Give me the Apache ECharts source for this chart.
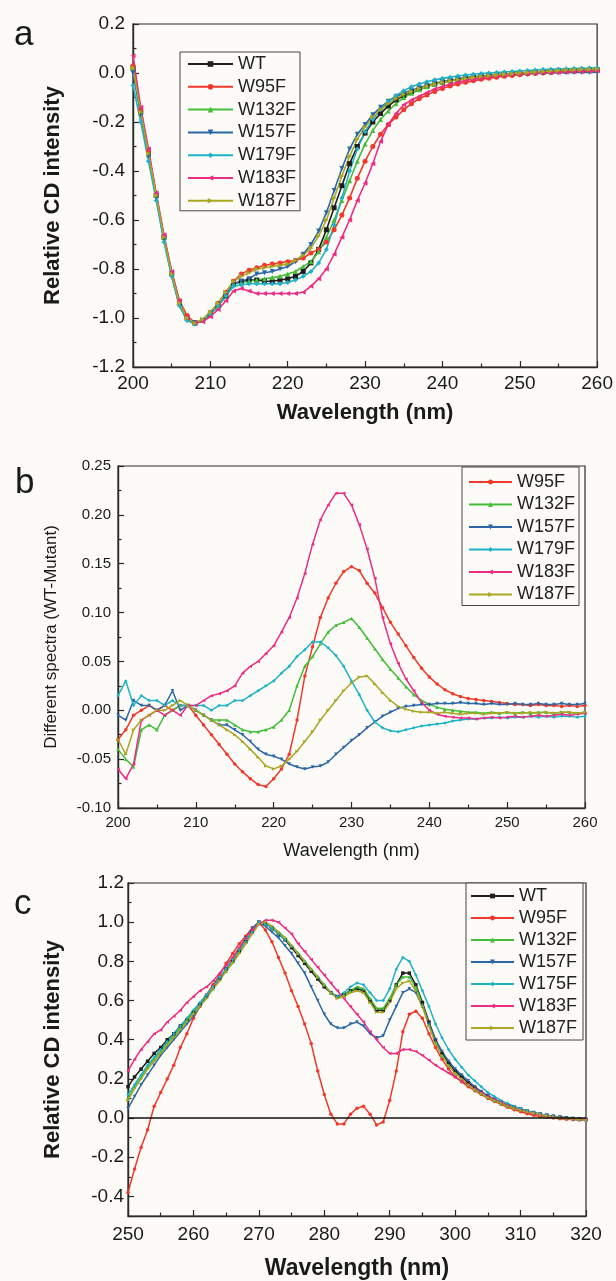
<!DOCTYPE html>
<html>
<head>
<meta charset="utf-8">
<script src="https://cdn.jsdelivr.net/npm/echarts@6/dist/echarts.min.js"></script>
<style>
html,body{margin:0;padding:0;background:#fcfbf7;}
#chart{width:616px;height:1281px;}
</style>
</head>
<body>
<div id="chart"></div>
<script>
// ---------- Panel a: far-UV CD (200-260 nm) ----------
const waveA = [200,201,202,203,204,205,206,207,208,209,210,211,212,213,214,215,216,217,218,219,220,221,222,223,224,225,226,227,228,229,230,231,232,233,234,235,236,237,238,239,240,241,242,243,244,245,246,247,248,249,250,251,252,253,254,255,256,257,258,259,260];
const a_WT = [0.02,-0.16,-0.33,-0.50,-0.67,-0.82,-0.94,-1.00,-1.02,-1.01,-0.985,-0.95,-0.91,
  -0.86,-0.85,-0.845,-0.845,-0.85,-0.85,-0.845,-0.84,-0.83,-0.81,-0.775,-0.72,-0.64,-0.55,-0.46,-0.37,-0.30,-0.245,-0.20,-0.165,-0.135,-0.11,-0.092,-0.077,-0.064,-0.054,-0.045,-0.038,-0.031,-0.026,-0.021,-0.017,-0.013,-0.01,-0.007,-0.005,-0.003,-0.001,0.001,0.003,0.005,0.007,0.008,0.009,0.01,0.011,0.012,0.013];
const a_W95F = [0.03,-0.15,-0.32,-0.50,-0.67,-0.82,-0.93,-0.99,-1.02,-1.01,-0.98,-0.94,-0.895,
  -0.85,-0.82,-0.805,-0.795,-0.785,-0.78,-0.775,-0.77,-0.765,-0.755,-0.735,-0.72,-0.69,-0.64,-0.58,-0.51,-0.43,-0.36,-0.30,-0.25,-0.21,-0.18,-0.15,-0.125,-0.105,-0.09,-0.075,-0.063,-0.053,-0.045,-0.038,-0.032,-0.026,-0.021,-0.017,-0.013,-0.01,-0.007,-0.004,-0.002,0.0,0.002,0.004,0.006,0.007,0.008,0.009,0.01];
const a_W132F = [0.02,-0.16,-0.33,-0.50,-0.67,-0.81,-0.93,-1.00,-1.02,-1.01,-0.985,-0.95,-0.905,
  -0.86,-0.855,-0.85,-0.845,-0.84,-0.835,-0.83,-0.82,-0.81,-0.79,-0.77,-0.73,-0.67,-0.60,-0.52,-0.44,-0.36,-0.29,-0.235,-0.19,-0.155,-0.125,-0.10,-0.083,-0.068,-0.056,-0.046,-0.038,-0.031,-0.025,-0.02,-0.016,-0.012,-0.009,-0.006,-0.004,-0.002,0.0,0.002,0.004,0.006,0.008,0.009,0.01,0.011,0.012,0.013,0.014];
const a_W157F = [0.0,-0.17,-0.34,-0.51,-0.68,-0.83,-0.95,-1.01,-1.02,-1.01,-0.98,-0.945,-0.90,
  -0.86,-0.85,-0.84,-0.82,-0.815,-0.81,-0.80,-0.79,-0.77,-0.74,-0.70,-0.645,-0.57,-0.48,-0.39,-0.31,-0.25,-0.21,-0.17,-0.14,-0.115,-0.097,-0.082,-0.07,-0.06,-0.05,-0.042,-0.035,-0.03,-0.025,-0.02,-0.016,-0.013,-0.01,-0.008,-0.006,-0.004,-0.003,-0.002,-0.001,0.0,0.0,0.001,0.001,0.002,0.002,0.002,0.003];
const a_W179F = [-0.05,-0.20,-0.36,-0.52,-0.69,-0.83,-0.95,-1.01,-1.025,-1.01,-0.985,-0.95,-0.91,
  -0.87,-0.865,-0.86,-0.86,-0.86,-0.86,-0.86,-0.855,-0.845,-0.83,-0.81,-0.775,-0.72,-0.62,-0.51,-0.40,-0.31,-0.24,-0.19,-0.15,-0.115,-0.092,-0.072,-0.056,-0.045,-0.036,-0.028,-0.022,-0.017,-0.012,-0.008,-0.005,-0.002,0.0,0.002,0.004,0.006,0.008,0.01,0.012,0.014,0.015,0.016,0.017,0.018,0.019,0.02,0.021];
const a_W183F = [0.07,-0.14,-0.31,-0.49,-0.66,-0.81,-0.93,-1.00,-1.02,-1.015,-0.995,-0.965,-0.93,
  -0.89,-0.88,-0.89,-0.90,-0.90,-0.90,-0.90,-0.90,-0.90,-0.895,-0.87,-0.84,-0.80,-0.74,-0.67,-0.60,-0.52,-0.45,-0.37,-0.28,-0.21,-0.165,-0.13,-0.11,-0.095,-0.08,-0.065,-0.055,-0.045,-0.038,-0.03,-0.025,-0.02,-0.016,-0.012,-0.009,-0.006,-0.004,-0.002,0.0,0.001,0.002,0.003,0.004,0.005,0.006,0.007,0.008];
const a_W187F = [0.02,-0.16,-0.33,-0.50,-0.67,-0.82,-0.94,-1.00,-1.02,-1.005,-0.975,-0.94,-0.895,
  -0.85,-0.83,-0.815,-0.80,-0.795,-0.79,-0.785,-0.78,-0.765,-0.745,-0.715,-0.665,-0.60,-0.51,-0.42,-0.34,-0.27,-0.22,-0.18,-0.15,-0.125,-0.105,-0.088,-0.075,-0.063,-0.053,-0.045,-0.038,-0.032,-0.027,-0.022,-0.018,-0.014,-0.011,-0.008,-0.005,-0.003,0.0,0.002,0.004,0.006,0.008,0.01,0.012,0.013,0.014,0.015,0.016];

// ---------- Panel b: difference spectra (WT - mutant) ----------
const waveB = waveA;
const b_W95F = [-0.03,-0.02,-0.005,0.0,0.005,0.0,0.005,0.0,0.005,0.005,-0.005,-0.015,-0.025,-0.035,-0.045,-0.055,-0.063,-0.07,-0.076,-0.078,-0.07,-0.06,-0.045,-0.01,0.035,0.065,0.095,0.115,0.13,0.142,0.147,0.143,0.13,0.12,0.105,0.09,0.078,0.066,0.054,0.043,0.034,0.027,0.021,0.017,0.014,0.012,0.011,0.01,0.009,0.008,0.007,0.006,0.006,0.005,0.006,0.005,0.005,0.004,0.005,0.004,0.005];
const b_W132F = [-0.04,-0.05,-0.058,-0.02,-0.015,-0.02,-0.005,0.0,0.005,0.005,0.0,-0.005,-0.01,-0.01,-0.01,-0.015,-0.02,-0.022,-0.022,-0.02,-0.017,-0.01,0.0,0.025,0.045,0.055,0.068,0.08,0.087,0.09,0.094,0.085,0.074,0.063,0.052,0.042,0.033,0.024,0.016,0.01,0.006,0.003,0.001,0.0,-0.001,-0.002,-0.002,-0.003,-0.002,-0.003,-0.002,-0.003,-0.002,-0.003,-0.002,-0.002,-0.003,-0.002,-0.002,-0.003,-0.002];
const b_W157F = [-0.005,-0.01,0.01,0.005,0.005,0.0,0.005,0.02,0.0,0.005,0.0,-0.005,-0.01,-0.015,-0.015,-0.02,-0.025,-0.032,-0.04,-0.045,-0.047,-0.05,-0.055,-0.058,-0.06,-0.058,-0.057,-0.053,-0.045,-0.038,-0.031,-0.025,-0.018,-0.012,-0.006,-0.002,0.002,0.004,0.005,0.006,0.006,0.007,0.007,0.007,0.008,0.007,0.007,0.006,0.007,0.006,0.006,0.007,0.006,0.006,0.007,0.006,0.006,0.007,0.006,0.006,0.007];
const b_W179F = [0.015,0.03,0.005,0.015,0.01,0.01,0.005,0.01,0.005,0.005,0.005,0.005,0.0,0.005,0.005,0.01,0.01,0.015,0.02,0.025,0.03,0.038,0.045,0.055,0.062,0.07,0.07,0.064,0.056,0.045,0.03,0.016,0.0,-0.012,-0.018,-0.021,-0.022,-0.02,-0.018,-0.016,-0.015,-0.014,-0.013,-0.011,-0.01,-0.009,-0.009,-0.008,-0.008,-0.007,-0.008,-0.007,-0.007,-0.006,-0.007,-0.006,-0.007,-0.006,-0.006,-0.007,-0.006];
const b_W183F = [-0.06,-0.07,-0.055,-0.01,-0.005,0.0,-0.005,0.0,-0.005,0.005,0.005,0.01,0.015,0.017,0.02,0.025,0.038,0.045,0.05,0.058,0.066,0.08,0.095,0.115,0.14,0.17,0.195,0.21,0.222,0.222,0.21,0.19,0.165,0.135,0.095,0.068,0.048,0.032,0.02,0.008,0.0,-0.004,-0.006,-0.007,-0.008,-0.008,-0.009,-0.008,-0.007,-0.008,-0.007,-0.006,-0.007,-0.006,-0.005,-0.006,-0.005,-0.004,-0.005,-0.004,-0.003];
const b_W187F = [-0.03,-0.045,-0.02,-0.01,-0.005,0.0,0.0,0.005,0.01,0.005,0.0,-0.005,-0.01,-0.015,-0.02,-0.025,-0.032,-0.04,-0.048,-0.057,-0.06,-0.057,-0.05,-0.042,-0.032,-0.022,-0.01,0.0,0.01,0.02,0.028,0.034,0.035,0.027,0.018,0.01,0.004,0.001,-0.001,-0.002,-0.002,-0.003,-0.002,-0.003,-0.004,-0.003,-0.003,-0.004,-0.003,-0.003,-0.002,-0.003,-0.003,-0.002,-0.003,-0.002,-0.003,-0.002,-0.002,-0.003,-0.002];

// ---------- Panel c: near-UV CD (250-320 nm) ----------
const waveC = [250,251,252,253,254,255,256,257,258,259,260,261,262,263,264,265,266,267,268,269,270,271,272,273,274,275,276,277,278,279,280,281,282,283,284,285,286,287,288,289,290,291,292,293,294,295,296,297,298,299,300,301,302,303,304,305,306,307,308,309,310,311,312,313,314,315,316,317,318,319,320];
const c_WT = [0.16,0.21,0.25,0.29,0.33,0.36,0.4,0.43,0.47,0.5,0.54,0.58,0.62,0.67,0.71,0.76,0.8,0.85,0.9,0.95,1.0,
  0.99,0.97,0.94,0.91,0.87,0.83,0.79,0.75,0.71,0.67,0.64,0.62,0.63,0.65,0.66,0.65,0.6,0.55,0.55,0.6,0.68,0.74,0.74,0.68,0.59,0.49,0.4,0.33,0.28,0.24,0.21,0.18,0.155,0.13,0.11,0.095,0.08,0.065,0.055,0.045,0.035,0.027,0.02,0.014,0.009,0.005,0.001,-0.002,-0.005,-0.007];
const c_W95F = [-0.38,-0.26,-0.15,-0.06,0.06,0.13,0.2,0.27,0.36,0.43,0.51,0.57,0.63,0.68,0.73,0.79,0.84,0.89,0.93,0.97,1.0,
  0.96,0.9,0.82,0.74,0.65,0.57,0.48,0.38,0.24,0.12,0.02,-0.03,-0.03,0.02,0.05,0.06,0.02,-0.035,-0.02,0.09,0.24,0.44,0.53,0.545,0.51,0.43,0.36,0.3,0.25,0.21,0.185,0.16,0.14,0.12,0.1,0.085,0.07,0.055,0.043,0.032,0.022,0.014,0.008,0.004,0.0,-0.003,-0.006,-0.008,-0.01,-0.01];
const c_W132F = [0.1,0.16,0.21,0.26,0.3,0.34,0.38,0.42,0.46,0.5,0.54,0.58,0.62,0.66,0.71,0.75,0.8,0.85,0.9,0.95,1.0,
  0.99,0.97,0.95,0.92,0.88,0.84,0.8,0.76,0.72,0.68,0.64,0.62,0.63,0.65,0.67,0.66,0.61,0.56,0.56,0.61,0.68,0.72,0.72,0.67,0.58,0.48,0.39,0.32,0.27,0.23,0.2,0.17,0.145,0.125,0.105,0.09,0.075,0.062,0.051,0.042,0.033,0.025,0.018,0.012,0.007,0.003,-0.001,-0.004,-0.006,-0.006];
const c_W157F = [0.05,0.11,0.17,0.22,0.27,0.32,0.36,0.4,0.44,0.48,0.52,0.57,0.62,0.66,0.71,0.76,0.81,0.86,0.92,0.97,1.0,
  0.98,0.95,0.92,0.88,0.84,0.79,0.74,0.67,0.6,0.53,0.48,0.46,0.46,0.48,0.49,0.47,0.43,0.41,0.42,0.5,0.57,0.64,0.66,0.64,0.57,0.48,0.4,0.34,0.29,0.25,0.22,0.19,0.16,0.135,0.115,0.095,0.08,0.068,0.056,0.046,0.036,0.028,0.02,0.014,0.008,0.004,0.0,-0.003,-0.006,-0.008];
const c_W175F = [0.12,0.17,0.22,0.27,0.31,0.35,0.39,0.43,0.47,0.51,0.55,0.59,0.63,0.67,0.72,0.76,0.81,0.86,0.9,0.95,1.0,
  0.99,0.97,0.94,0.91,0.88,0.84,0.8,0.76,0.72,0.68,0.64,0.62,0.64,0.67,0.69,0.68,0.64,0.6,0.6,0.66,0.76,0.82,0.8,0.73,0.65,0.57,0.48,0.41,0.35,0.3,0.26,0.22,0.19,0.16,0.13,0.11,0.09,0.075,0.06,0.048,0.037,0.028,0.02,0.014,0.008,0.003,-0.001,-0.005,-0.01,-0.012];
const c_W183F = [0.24,0.3,0.35,0.39,0.43,0.45,0.49,0.52,0.55,0.59,0.62,0.65,0.67,0.7,0.74,0.78,0.82,0.87,0.92,0.96,0.99,
  1.01,1.01,1.0,0.97,0.94,0.89,0.85,0.81,0.77,0.73,0.69,0.65,0.61,0.57,0.53,0.49,0.44,0.4,0.36,0.33,0.33,0.35,0.35,0.34,0.32,0.295,0.27,0.25,0.23,0.21,0.19,0.17,0.15,0.13,0.11,0.095,0.08,0.065,0.05,0.04,0.03,0.022,0.015,0.009,0.004,0.0,-0.003,-0.005,-0.007,-0.008];
const c_W187F = [0.09,0.15,0.2,0.25,0.29,0.33,0.37,0.41,0.45,0.49,0.53,0.57,0.61,0.66,0.7,0.75,0.79,0.84,0.89,0.94,0.99,
  1.0,0.98,0.95,0.92,0.88,0.84,0.8,0.76,0.72,0.68,0.64,0.61,0.62,0.64,0.65,0.64,0.59,0.54,0.54,0.59,0.66,0.69,0.7,0.65,0.57,0.47,0.38,0.32,0.27,0.23,0.2,0.17,0.145,0.125,0.105,0.09,0.075,0.062,0.05,0.04,0.031,0.024,0.017,0.011,0.006,0.002,-0.002,-0.005,-0.008,-0.01];

// tick values
const yTicksC = [-0.4,-0.2,0.0,0.2,0.4,0.6,0.8,1.0,1.2];
const yMinorC = [-0.5,-0.3,-0.1,0.1,0.3,0.5,0.7,0.9,1.1];

const FONT = "'Liberation Sans', Arial, sans-serif";
const C = {
  WT:'#1e1e1e', W95F:'#f0382b', W132F:'#45bd38', W157F:'#2b67a6',
  W179F:'#1fb2c6', W175F:'#1fb2c6', W183F:'#ec2d84', W187F:'#a9a724'
};
const SYM = {
  WT:['rect',0], W95F:['circle',0], W132F:['triangle',0], W157F:['triangle',180],
  W179F:['diamond',0], W175F:['diamond',0], W183F:['triangle',90], W187F:['triangle',-90]
};

function mk(panel, key, xs, ys, gi, yi, size, lw) {
  return {
    name: panel + '|' + key,
    type: 'line',
    xAxisIndex: gi, yAxisIndex: yi,
    data: xs.map((x, i) => [x, ys[i]]),
    symbol: SYM[key][0], symbolRotate: SYM[key][1], symbolSize: size,
    showSymbol: true,
    lineStyle: {color: C[key], width: lw},
    itemStyle: {color: C[key]},
    emphasis: {disabled: true},
    animation: false
  };
}

const series = [
  mk('a','WT',waveA,a_WT,0,0,5,1.6),
  mk('a','W95F',waveA,a_W95F,0,0,5,1.6),
  mk('a','W132F',waveA,a_W132F,0,0,5,1.6),
  mk('a','W157F',waveA,a_W157F,0,0,5,1.6),
  mk('a','W179F',waveA,a_W179F,0,0,5,1.6),
  mk('a','W183F',waveA,a_W183F,0,0,5,1.6),
  mk('a','W187F',waveA,a_W187F,0,0,5,1.6),
  mk('b','W95F',waveB,b_W95F,1,1,3.5,1.5),
  mk('b','W132F',waveB,b_W132F,1,1,3.5,1.5),
  mk('b','W157F',waveB,b_W157F,1,1,3.5,1.5),
  mk('b','W179F',waveB,b_W179F,1,1,3.5,1.5),
  mk('b','W183F',waveB,b_W183F,1,1,3.5,1.5),
  mk('b','W187F',waveB,b_W187F,1,1,3.5,1.5),
  mk('c','WT',waveC,c_WT,2,2,3.5,1.5),
  mk('c','W95F',waveC,c_W95F,2,2,3.5,1.5),
  mk('c','W132F',waveC,c_W132F,2,2,3.5,1.5),
  mk('c','W157F',waveC,c_W157F,2,2,3.5,1.5),
  mk('c','W175F',waveC,c_W175F,2,2,3.5,1.5),
  mk('c','W183F',waveC,c_W183F,2,2,3.5,1.5),
  mk('c','W187F',waveC,c_W187F,2,2,3.5,1.5)
];
// zero reference line in panel c
series[13].markLine = {
  silent: true, symbol: 'none', label: {show: false},
  lineStyle: {color: '#111', width: 1.6, type: 'solid'},
  data: [{yAxis: 0}]
};

const AX = '#2a2a2a';
function xAxisOf(gi, min, max, opts) {
  return {
    type: 'value', gridIndex: gi, min: min, max: max, interval: 10,
    name: 'Wavelength (nm)', nameLocation: 'middle', nameGap: opts.nameGap,
    nameTextStyle: {fontFamily: FONT, fontSize: opts.nameSize, fontWeight: opts.bold ? 'bold' : 'normal', color: '#1a1a1a'},
    axisLine: {show: true, onZero: false, lineStyle: {color: AX, width: 1.4}},
    axisTick: {show: true, inside: true, length: 6, lineStyle: {color: AX, width: 1.2}},
    minorTick: {show: true, splitNumber: 2, length: 3.5, lineStyle: {color: AX, width: 1.2}},
    axisLabel: {fontFamily: FONT, fontSize: opts.labelSize, color: '#1a1a1a', margin: opts.margin},
    splitLine: {show: false}, minorSplitLine: {show: false}
  };
}

const option = {
  backgroundColor: '#fcfbf7',
  animation: false,
  textStyle: {fontFamily: FONT},
  grid: [
    {left: 133, top: 24, width: 467, height: 343, show: true, borderColor: AX, borderWidth: 1.2, backgroundColor: 'transparent'},
    {left: 118, top: 466, width: 467, height: 342, show: true, borderColor: AX, borderWidth: 1.2, backgroundColor: 'transparent'},
    {left: 128, top: 883, width: 458, height: 335, show: true, borderColor: AX, borderWidth: 1.2, backgroundColor: 'transparent'}
  ],
  xAxis: [
    xAxisOf(0, 200, 260, {nameGap: 35, nameSize: 22, bold: true, labelSize: 19, margin: 7}),
    xAxisOf(1, 200, 260, {nameGap: 34, nameSize: 18, bold: false, labelSize: 15, margin: 7}),
    xAxisOf(2, 250, 320, {nameGap: 41, nameSize: 23, bold: true, labelSize: 19, margin: 9})
  ],
  yAxis: [
    {
      type: 'value', gridIndex: 0, min: -1.2, max: 0.2, interval: 0.2,
      name: 'Relative CD intensity', nameLocation: 'middle', nameGap: 69,
      nameTextStyle: {fontFamily: FONT, fontSize: 22, fontWeight: 'bold', color: '#1a1a1a'},
      axisLine: {show: true, onZero: false, lineStyle: {color: AX, width: 1.4}},
      axisTick: {show: true, inside: true, length: 6, lineStyle: {color: AX, width: 1.2}},
      minorTick: {show: true, splitNumber: 2, length: 3.5, lineStyle: {color: AX, width: 1.2}},
      axisLabel: {fontFamily: FONT, fontSize: 19, color: '#1a1a1a', margin: 8, formatter: v => v.toFixed(1)},
      splitLine: {show: false}
    },
    {
      type: 'value', gridIndex: 1, min: -0.10, max: 0.25, interval: 0.05,
      name: 'Different spectra (WT-Mutant)', nameLocation: 'middle', nameGap: 58,
      nameTextStyle: {fontFamily: FONT, fontSize: 17, color: '#1a1a1a'},
      axisLine: {show: true, onZero: false, lineStyle: {color: AX, width: 1.4}},
      axisTick: {show: true, inside: true, length: 6, lineStyle: {color: AX, width: 1.2}},
      minorTick: {show: true, splitNumber: 2, length: 3.5, lineStyle: {color: AX, width: 1.2}},
      axisLabel: {fontFamily: FONT, fontSize: 15, color: '#1a1a1a', margin: 7, formatter: v => v.toFixed(2)},
      splitLine: {show: false}
    },
    {
      type: 'value', gridIndex: 2, min: -0.5, max: 1.2, position: 'left',
      name: 'Relative CD intensity', nameLocation: 'middle', nameGap: 64,
      nameTextStyle: {fontFamily: FONT, fontSize: 22, fontWeight: 'bold', color: '#1a1a1a'},
      axisLine: {show: true, onZero: false, lineStyle: {color: AX, width: 1.4}},
      axisTick: {show: true, inside: true, length: 6, customValues: yTicksC, lineStyle: {color: AX, width: 1.2}},
      axisLabel: {fontFamily: FONT, fontSize: 19, color: '#1a1a1a', margin: 4, customValues: yTicksC, formatter: v => v.toFixed(1)},
      splitLine: {show: false}
    },
    {
      type: 'value', gridIndex: 2, min: -0.5, max: 1.2, position: 'left',
      axisLine: {show: false},
      axisTick: {show: true, inside: true, length: 3.5, customValues: yMinorC, lineStyle: {color: AX, width: 1.2}},
      axisLabel: {show: false},
      splitLine: {show: false}
    }
  ],
  legend: [
    {
      data: ['a|WT','a|W95F','a|W132F','a|W157F','a|W179F','a|W183F','a|W187F'],
      orient: 'vertical', left: 180, top: 52, padding: [3, 4, 1, 7],
      itemWidth: 45, itemHeight: 7, itemGap: 4.8, selectedMode: false,
      borderColor: '#444', borderWidth: 1, backgroundColor: '#fcfbf7',
      formatter: n => n.split('|')[1],
      textStyle: {fontFamily: FONT, fontSize: 18, lineHeight: 18, color: '#222'}
    },
    {
      data: ['b|W95F','b|W132F','b|W157F','b|W179F','b|W183F','b|W187F'],
      orient: 'vertical', left: 462, top: 467, padding: [6, 4, 2, 6],
      itemWidth: 43, itemHeight: 6, itemGap: 4.5, selectedMode: false,
      borderColor: '#444', borderWidth: 1, backgroundColor: '#fcfbf7',
      formatter: n => n.split('|')[1],
      textStyle: {fontFamily: FONT, fontSize: 18, lineHeight: 18, color: '#222'}
    },
    {
      data: ['c|WT','c|W95F','c|W132F','c|W157F','c|W175F','c|W183F','c|W187F'],
      orient: 'vertical', left: 466, top: 883, padding: [4, 6, 3, 4],
      itemWidth: 43, itemHeight: 6, itemGap: 4, selectedMode: false,
      borderColor: '#444', borderWidth: 1, backgroundColor: '#fcfbf7',
      formatter: n => n.split('|')[1],
      textStyle: {fontFamily: FONT, fontSize: 18, lineHeight: 18, color: '#222'}
    }
  ],
  graphic: [
    {type: 'text', left: 14, top: 18, style: {text: 'a', font: "35px 'Liberation Sans', Arial", fill: '#1a1a1a'}},
    {type: 'text', left: 15, top: 466, style: {text: 'b', font: "35px 'Liberation Sans', Arial", fill: '#1a1a1a'}},
    {type: 'text', left: 14, top: 887, style: {text: 'c', font: "35px 'Liberation Sans', Arial", fill: '#1a1a1a'}}
  ],
  series: series
};

const chart = echarts.init(document.getElementById('chart'), null, {renderer: 'canvas'});
chart.setOption(option);
</script>
</body>
</html>
